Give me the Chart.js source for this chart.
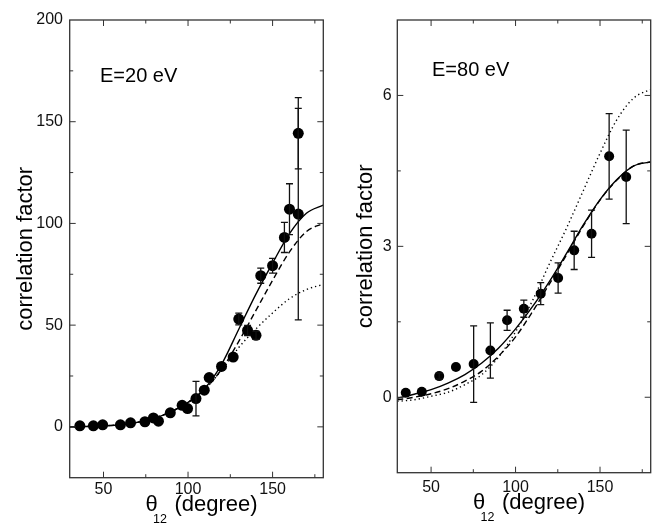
<!DOCTYPE html>
<html>
<head>
<meta charset="utf-8">
<script src="https://cdn.jsdelivr.net/npm/chart.js@4.4.0/dist/chart.umd.min.js"></script>
<style>
  body { margin: 0; background: #fff; }
  #left { position: absolute; left: 0; top: 0; width: 330px; height: 525px; }
  #right { position: absolute; left: 330px; top: 0; width: 332px; height: 525px; }
</style>
</head>
<body>
<div id="left"><canvas id="leftChart"></canvas></div>
<div id="right"><canvas id="rightChart"></canvas></div>
<script>
const FONT = "'Liberation Sans', Arial, sans-serif";

// shared angle axis
const angleTicks = [50, 75, 100, 125, 150, 175];
const angleLabels = [50, 100, 150];
const curveAngles = [30, 40, 50, 60, 70, 80, 90, 100, 110, 120, 130, 140, 150, 160, 170, 180];

// E = 20 eV
const leftAngles = [36, 44, 49.5, 60, 66, 74.5, 79.5, 82.5, 89.5, 96.5, 99.7, 104.7, 109.6, 112.5, 119.8, 126.7, 130, 135.2, 140.2, 143, 150, 157, 160, 165.2, 165.2];
const leftValues = [0.5, 0.5, 1, 1, 2, 2.5, 4.4, 2.8, 6.9, 10.6, 9, 13.9, 18, 24.2, 29.7, 34.3, 53, 47.4, 45, 74.3, 79.2, 93.1, 107, 144.3, 104.6];
const leftErrors = [0, 0, 0, 0, 0, 0, 0, 0, 0, 0, 0, 8.5, 0, 0, 0, 0, 2.9, 2.5, 2, 3.7, 3.6, 7.4, 12.5, 17.5, 52];
const leftSolid = [0, 0.2, 0.5, 1.0, 2.2, 4.2, 7.5, 12, 19, 31, 48, 65, 80.5, 95, 105, 109];
const leftDashed = [0, 0.2, 0.5, 1.0, 2.2, 4.2, 7.5, 12, 18.5, 28.5, 42, 57, 72, 86, 96, 100];
const leftDotted = [0, 0.2, 0.5, 1.0, 2.2, 4.2, 7.5, 12, 18.5, 28, 39, 48, 56, 63, 67.5, 70];
const leftYTicks = [0, 25, 50, 75, 100, 125, 150, 175, 200];
const leftYLabels = [0, 50, 100, 150, 200];

// E = 80 eV
const rightAngles = [35, 44.5, 54.8, 64.7, 75.2, 85.1, 95, 104.9, 114.9, 125.2, 134.7, 145, 155.4, 165.5];
const rightValues = [0.09, 0.11, 0.42, 0.6, 0.66, 0.93, 1.53, 1.76, 2.06, 2.37, 2.92, 3.25, 4.79, 4.38];
const rightErrors = [0, 0, 0.06, 0, 0.76, 0.55, 0.2, 0.17, 0.22, 0.3, 0.38, 0.47, 0.85, 0.93];
const rightSolid = [-0.02, 0.06, 0.15, 0.28, 0.45, 0.68, 0.98, 1.36, 1.8, 2.3, 2.85, 3.42, 3.93, 4.33, 4.6, 4.68];
const rightDashed = [-0.05, 0, 0.07, 0.17, 0.32, 0.52, 0.82, 1.2, 1.7, 2.25, 2.82, 3.4, 3.92, 4.32, 4.6, 4.68];
const rightDotted = [-0.08, -0.05, 0.02, 0.1, 0.25, 0.45, 0.8, 1.3, 1.92, 2.65, 3.35, 4.1, 4.85, 5.52, 5.95, 6.12];
const rightYTicks = [0, 1.5, 3, 4.5, 6];
const rightYLabels = [0, 3, 6];

function toXY(xs, ys) {
  return xs.map((x, i) => ({ x: x, y: ys[i] }));
}

// box with inward ticks on all four sides
const framePlugin = {
  id: 'frame',
  afterDraw(chart) {
    const { ctx, chartArea: a, scales } = chart;
    const o = chart.options.plugins.frame;
    ctx.save();
    ctx.strokeStyle = '#333';
    ctx.lineWidth = 1.3;
    ctx.strokeRect(a.left, a.top, a.right - a.left, a.bottom - a.top);
    ctx.lineWidth = 1;
    scales.x.ticks.forEach(t => {
      const px = scales.x.getPixelForValue(t.value);
      const len = angleLabels.includes(t.value) ? 6 : 3.5;
      ctx.beginPath();
      ctx.moveTo(px, a.bottom); ctx.lineTo(px, a.bottom - len);
      ctx.moveTo(px, a.top); ctx.lineTo(px, a.top + len);
      ctx.stroke();
    });
    scales.y.ticks.forEach(t => {
      const py = scales.y.getPixelForValue(t.value);
      if (py <= a.top + 1 || py >= a.bottom - 1) return;
      const len = o.labels.includes(t.value) ? 6 : 3.5;
      ctx.beginPath();
      ctx.moveTo(a.left, py); ctx.lineTo(a.left + len, py);
      ctx.moveTo(a.right, py); ctx.lineTo(a.right - len, py);
      ctx.stroke();
    });
    // energy label
    ctx.fillStyle = '#000';
    ctx.font = '20px ' + FONT;
    ctx.textBaseline = 'alphabetic';
    ctx.textAlign = 'left';
    ctx.fillText(o.energy, a.left + o.energyDx, a.top + o.energyDy);
    // angle axis title with subscript
    const cx = (a.left + a.right) / 2 - 51;
    const base = o.titleBase;
    ctx.font = '22px ' + FONT;
    ctx.fillText('θ', cx, base);
    ctx.font = '12.5px ' + FONT;
    ctx.fillText('12', cx + 7.5, base + 11.5);
    ctx.font = '22px ' + FONT;
    ctx.fillText('(degree)', cx + 29, base);
    ctx.restore();
  }
};

const errorPlugin = {
  id: 'errorbars',
  afterDatasetsDraw(chart) {
    const { ctx, scales } = chart;
    const ds = chart.data.datasets[0];
    ctx.save();
    ctx.strokeStyle = '#111';
    ctx.lineWidth = 1.3;
    ds.data.forEach((p, i) => {
      const e = ds.errors[i];
      if (!e) return;
      const px = scales.x.getPixelForValue(p.x);
      const y1 = scales.y.getPixelForValue(p.y + e);
      const y2 = scales.y.getPixelForValue(p.y - e);
      ctx.beginPath();
      ctx.moveTo(px, y1); ctx.lineTo(px, y2);
      ctx.moveTo(px - 3.5, y1); ctx.lineTo(px + 3.5, y1);
      ctx.moveTo(px - 3.5, y2); ctx.lineTo(px + 3.5, y2);
      ctx.stroke();
    });
    ctx.restore();
  }
};

function makeChart(id, c) {
  return new Chart(id, {
    type: 'scatter',
    data: {
      datasets: [
        { type: 'scatter', data: toXY(c.angles, c.values), errors: c.errors,
          pointRadius: c.radius, backgroundColor: '#000', borderWidth: 0 },
        { type: 'line', data: toXY(curveAngles, c.solid), borderColor: '#000', borderWidth: 1.4,
          pointRadius: 0, fill: false, cubicInterpolationMode: 'monotone' },
        { type: 'line', data: toXY(curveAngles, c.dashed), borderColor: '#000', borderWidth: 1.4,
          borderDash: [6, 3.5], pointRadius: 0, fill: false, cubicInterpolationMode: 'monotone' },
        { type: 'line', data: toXY(curveAngles, c.dotted), borderColor: '#000', borderWidth: 1.4,
          borderDash: [1.3, 3], pointRadius: 0, fill: false, cubicInterpolationMode: 'monotone' }
      ]
    },
    options: {
      responsive: true,
      maintainAspectRatio: false,
      animation: false,
      events: [],
      layout: { padding: c.padding },
      plugins: {
        legend: { display: false },
        tooltip: { enabled: false },
        frame: { labels: c.yLabels, energy: c.energy, energyDx: c.energyDx, energyDy: c.energyDy, titleBase: c.titleBase }
      },
      scales: {
        x: {
          type: 'linear', min: 30, max: 180,
          afterBuildTicks: s => { s.ticks = angleTicks.map(v => ({ value: v })); },
          afterFit: s => { s.height = c.xHeight; },
          grid: { display: false, drawTicks: false },
          border: { display: false },
          ticks: { autoSkip: false, maxRotation: 0, padding: c.xPad, color: '#111',
                   font: { family: FONT, size: 16 },
                   callback: v => angleLabels.includes(v) ? String(v) : '' }
        },
        y: {
          type: 'linear', min: c.yMin, max: c.yMax,
          afterBuildTicks: s => { s.ticks = c.yTicks.map(v => ({ value: v })); },
          afterFit: s => { s.width = c.yWidth; },
          grid: { display: false, drawTicks: false },
          border: { display: false },
          ticks: { autoSkip: false, padding: c.yPad, color: '#111',
                   font: { family: FONT, size: 16 },
                   callback: v => c.yLabels.includes(v) ? String(v) : '' },
          title: { display: true, text: 'correlation factor', color: '#000',
                   font: { family: FONT, size: 22 }, padding: { top: c.titlePad } }
        }
      }
    },
    plugins: [errorPlugin, framePlugin]
  });
}

makeChart('leftChart', {
  angles: leftAngles, values: leftValues, errors: leftErrors,
  solid: leftSolid, dashed: leftDashed, dotted: leftDotted,
  yTicks: leftYTicks, yLabels: leftYLabels, yMin: -25, yMax: 200,
  padding: { left: 0, right: 6.7, top: 20, bottom: 0 },
  xHeight: 47.3, yWidth: 69.7, xPad: 2.5, yPad: 6.7, titlePad: 12.5,
  radius: 5.5, energy: 'E=20 eV', energyDx: 30.3, energyDy: 62, titleBase: 511
});

makeChart('rightChart', {
  angles: rightAngles, values: rightValues, errors: rightErrors,
  solid: rightSolid, dashed: rightDashed, dotted: rightDotted,
  yTicks: rightYTicks, yLabels: rightYLabels, yMin: -1.5, yMax: 7.5,
  padding: { left: 0, right: 11.3, top: 20, bottom: 0 },
  xHeight: 52.3, yWidth: 67.3, xPad: 5.5, yPad: 5.6, titlePad: 22.4,
  radius: 5, energy: 'E=80 eV', energyDx: 34.7, energyDy: 56, titleBase: 509
});
</script>
</body>
</html>
